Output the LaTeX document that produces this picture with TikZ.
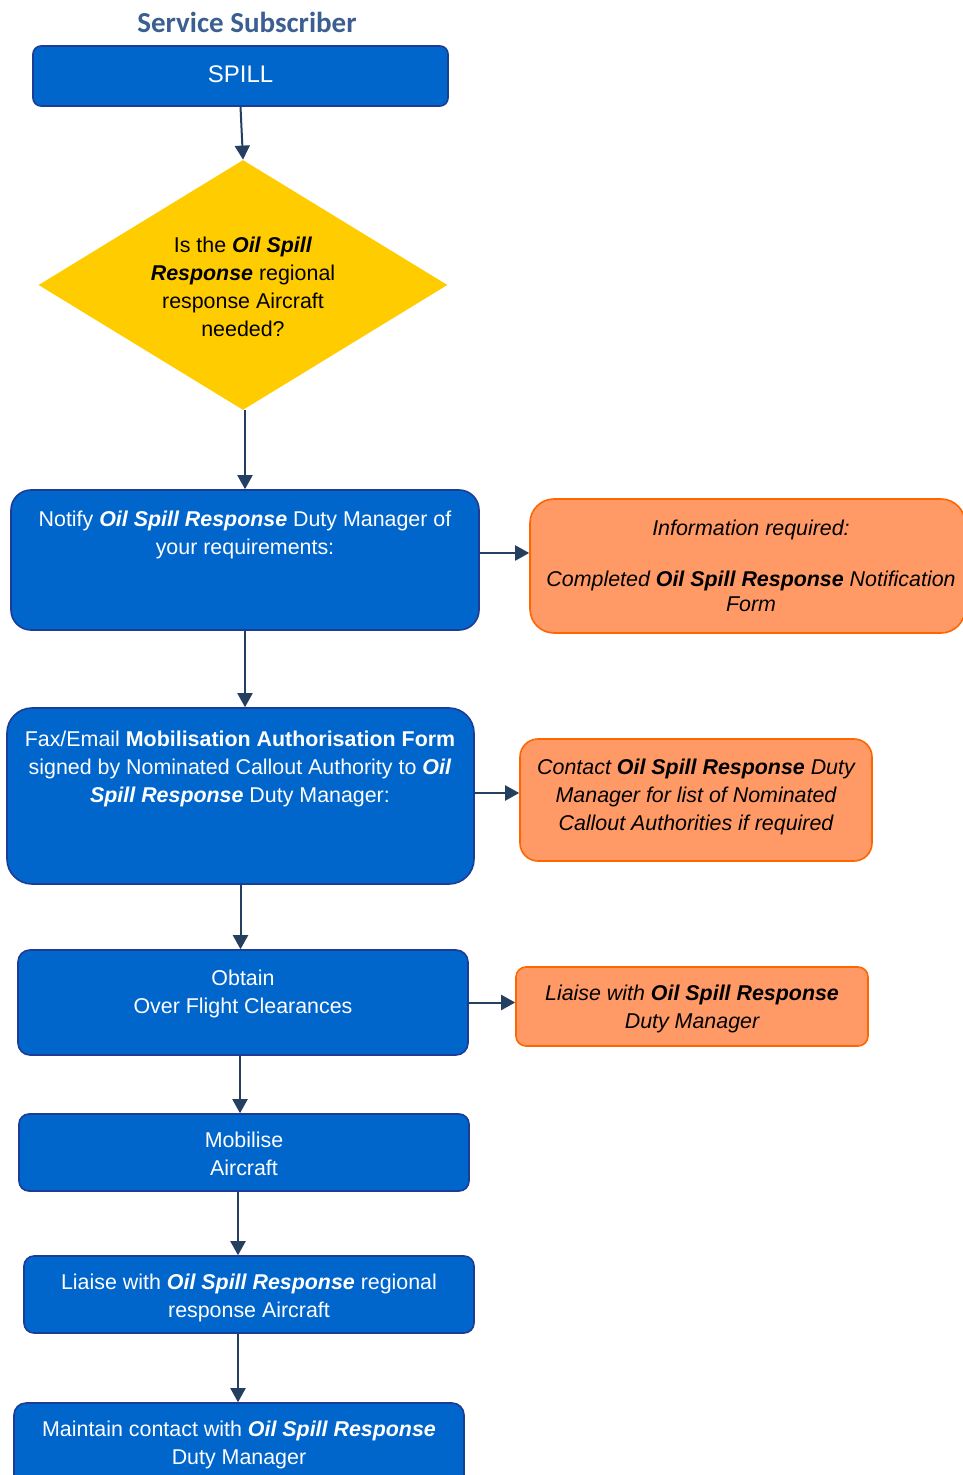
\documentclass[tikz,border=0pt]{standalone}
\usepackage{fontspec}
\setmainfont{Liberation Sans}
\newfontfamily\titlefont{Carlito}
\usetikzlibrary{arrows.meta,shapes.geometric,calc}
\definecolor{boxblue}{RGB}{0,102,204}
\definecolor{boxedge}{RGB}{28,60,150}
\definecolor{orfill}{RGB}{255,153,102}
\definecolor{oredge}{RGB}{255,102,0}
\definecolor{arrowc}{RGB}{36,63,96}
\definecolor{titlec}{RGB}{59,95,145}
\definecolor{diayellow}{RGB}{255,204,0}
\newcommand{\bi}[1]{\textbf{\textit{#1}}}
\begin{document}
\begin{tikzpicture}[x=0.5pt,y=-0.5pt,
  bluebox/.style={draw=boxedge,line width=0.8pt,fill=boxblue,inner sep=0pt,anchor=center},
  orbox/.style={draw=oredge,line width=0.8pt,fill=orfill,inner sep=0pt,anchor=center},
  wtxt/.style={text=white,align=center,inner sep=0pt,font=\fontsize{10.7}{14}\selectfont},
  btxt/.style={text=black,align=center,inner sep=0pt,font=\fontsize{10.7}{14}\selectfont\itshape},
  arr/.style={draw=arrowc,line width=1pt,-{Triangle[width=7.5pt,length=7pt]}}]
\useasboundingbox (0,0) rectangle (962,1475);
\fill[white] (0,0) rectangle (962,1475);

% title
\node[text=titlec,font=\titlefont\bfseries\fontsize{14.5}{17}\selectfont] (title) at (247,22) {Service Subscriber};

% SPILL
\node[bluebox,rounded corners=4pt,minimum width=207.5pt,minimum height=30pt,text=white,font=\fontsize{12}{14}\selectfont] (spill) at (240.5,76) {\raisebox{1.5pt}{SPILL}};

% decision
\node[diamond,fill=diayellow,minimum width=204.5pt,minimum height=125pt,inner sep=0pt,aspect=1.636] (dia) at (243,285) {};
\node[btxt,font=\fontsize{10.7}{14}\selectfont] (diat) at (243,287)
  {Is the \bi{Oil Spill}\\\bi{Response} regional\\response Aircraft\\needed?};

% notify
\node[bluebox,rounded corners=10pt,minimum width=234pt,minimum height=70pt] (notify) at (245,560) {};
\node[wtxt] (notifyt) at (245,535) {Notify \bi{Oil Spill Response} Duty Manager of\\your requirements:};

% info
\node[orbox,rounded corners=12pt,minimum width=217.5pt,minimum height=67pt] (info) at (747.5,566) {};
\node[btxt] (infot) at (751,566) {Information required:\\[11.5pt]Completed \textbf{Oil Spill Response} Notification\\[-1.5pt]Form};

% fax
\node[bluebox,rounded corners=12.5pt,minimum width=233.5pt,minimum height=88pt] (fax) at (240.5,796) {};
\node[wtxt] (faxt) at (240,769) {Fax/Email \textbf{Mobilisation Authorisation Form}\\signed by Nominated Callout Authority to \bi{Oil}\\\bi{Spill Response} Duty Manager:};

% contact
\node[orbox,rounded corners=9pt,minimum width=176pt,minimum height=61pt] (contact) at (696,800) {};
\node[btxt] (contactt) at (696,797) {Contact \textbf{Oil Spill Response} Duty\\Manager for list of Nominated\\Callout Authorities if required};

% obtain
\node[bluebox,rounded corners=6pt,minimum width=225pt,minimum height=52.5pt] (obtain) at (243,1002.5) {};
\node[wtxt] (obtaint) at (243,994) {Obtain\\Over Flight Clearances};

% liaise DM
\node[orbox,rounded corners=5pt,minimum width=176pt,minimum height=39.5pt] (ldm) at (692,1006.5) {};
\node[btxt] (ldmt) at (692,1009) {Liaise with \textbf{Oil Spill Response}\\Duty Manager};

% mobilise
\node[bluebox,rounded corners=5pt,minimum width=225pt,minimum height=38.5pt] (mob) at (244,1152.5) {};
\node[wtxt] (mobt) at (244,1154) {Mobilise\\Aircraft};

% liaise aircraft
\node[bluebox,rounded corners=5pt,minimum width=225pt,minimum height=38.5pt] (lia) at (249,1294.5) {};
\node[wtxt] (liat) at (249,1297.5) {Liaise with \bi{Oil Spill Response} regional\\response Aircraft};

% maintain
\node[bluebox,rounded corners=6pt,minimum width=225pt,minimum height=42pt] (main) at (239,1445) {};
\node[wtxt] (maint) at (239,1444.5) {Maintain contact with \bi{Oil Spill Response}\\Duty Manager};

% connectors
\draw[arr] (spill.south) -- (dia.north);
\draw[arr] (notify.north |- dia.south) -- (notify.north);
\draw[arr] (notify.south) -- (notify.south |- fax.north);
\draw[arr] (fax.south) -- (fax.south |- obtain.north);
\path ([xshift=-1.5pt]obtain.south) coordinate (o1);
\draw[arr] (o1) -- (o1 |- mob.north);
\path ([xshift=-3pt]mob.south) coordinate (m1);
\draw[arr] (m1) -- (m1 |- lia.north);
\path ([xshift=-5.5pt]lia.south) coordinate (l1);
\draw[arr] (l1) -- (l1 |- main.north);
\path ([yshift=3.5pt]notify.east) coordinate (n1);
\draw[arr] (n1) -- (n1 -| info.west);
\path ([yshift=1.5pt]fax.east) coordinate (f1);
\draw[arr] (f1) -- (f1 -| contact.west);
\draw[arr] (obtain.east) -- (obtain.east -| ldm.west);
\end{tikzpicture}
\end{document}
